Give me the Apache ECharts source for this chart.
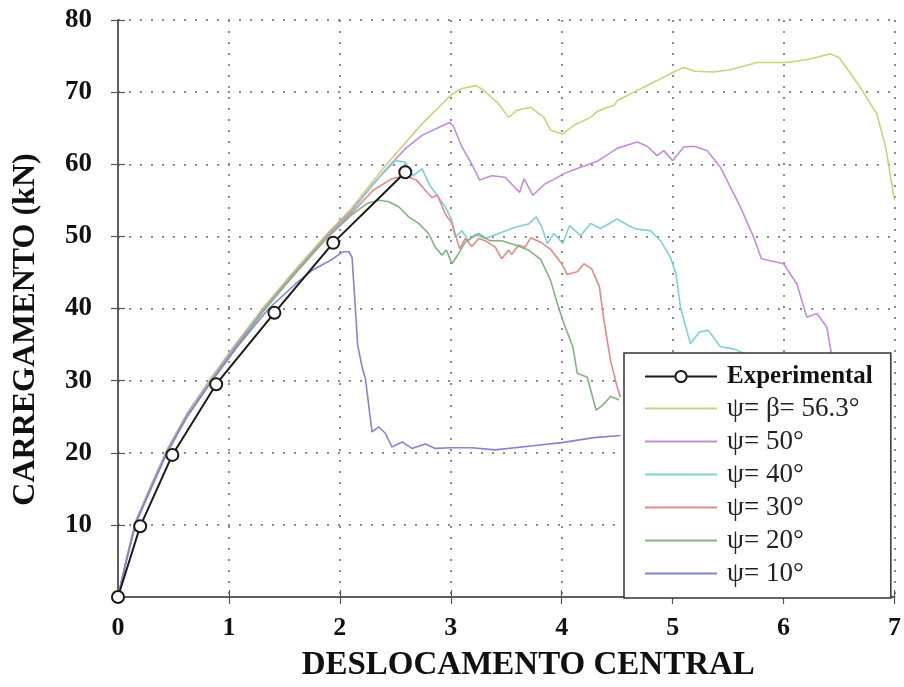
<!DOCTYPE html>
<html>
<head>
<meta charset="utf-8">
<script src="https://cdn.jsdelivr.net/npm/echarts@6/dist/echarts.min.js"></script>
<style>
  html, body { margin: 0; padding: 0; background: #fff; }
  #chart { width: 904px; height: 687px; }
</style>
</head>
<body>
<div id="chart"></div>
<script>
// tick values
const xTicks = [0, 1, 2, 3, 4, 5, 6, 7];
const yTicks = [0, 10, 20, 30, 40, 50, 60, 70, 80];

// legend names
const seriesNames = ["Experimental", "ψ= β= 56.3°", "ψ= 50°", "ψ= 40°", "ψ= 30°", "ψ= 20°", "ψ= 10°"];

// [deslocamento, carregamento]
const experimental = [[0, 0], [0.2, 9.8], [0.49, 19.7], [0.885, 29.5], [1.41, 39.4], [1.94, 49.1], [2.59, 58.9]];

const psi56 = [[0, 0], [0.08, 5.6], [0.16, 10.6], [0.3, 15.6], [0.44, 20.4], [0.62, 25.4], [0.84, 30.4], [1.07, 35.3],
  [1.32, 40.3], [1.6, 45.4], [1.88, 50.3], [2.1, 53.8], [2.41, 59.8], [2.74, 65.6], [3.01, 69.7], [3.1, 70.5],
  [3.23, 70.9], [3.3, 70.2], [3.43, 68.4], [3.52, 66.5], [3.6, 67.5], [3.72, 67.9], [3.84, 66.5], [3.9, 64.7],
  [4.01, 64.2], [4.11, 65.4], [4.26, 66.5], [4.32, 67.3], [4.41, 67.9], [4.47, 68.1], [4.5, 68.8], [4.65, 70],
  [4.86, 71.6], [5.01, 72.8], [5.1, 73.4], [5.2, 72.9], [5.37, 72.8], [5.52, 73.1], [5.76, 74.1], [6.03, 74.1],
  [6.24, 74.6], [6.42, 75.3], [6.5, 74.8], [6.69, 70.7], [6.84, 67], [6.92, 62.4], [7.0, 55]];

const psi50 = [[0, 0], [0.08, 5.5], [0.16, 10.5], [0.3, 15.5], [0.44, 20.3], [0.62, 25.3], [0.84, 30.2], [1.07, 35.1],
  [1.32, 40.1], [1.6, 45.2], [1.88, 50.1], [2.1, 53.5], [2.41, 59.2], [2.6, 62.3], [2.74, 64], [2.89, 65.1],
  [2.99, 65.8], [3.02, 65.4], [3.1, 62.4], [3.19, 60], [3.26, 57.8], [3.37, 58.4], [3.49, 58.2], [3.62, 56.1],
  [3.66, 58], [3.74, 55.7], [3.85, 57.3], [3.93, 57.9], [4.02, 58.7], [4.17, 59.6], [4.32, 60.4], [4.5, 62.2],
  [4.68, 63.1], [4.77, 62.5], [4.86, 61.2], [4.92, 61.9], [5.0, 60.5], [5.1, 62.4], [5.19, 62.5], [5.31, 61.9],
  [5.43, 59.6], [5.61, 54.1], [5.73, 49.9], [5.8, 46.9], [6.0, 46.2], [6.12, 43.4], [6.21, 38.8], [6.3, 39.3],
  [6.39, 37.4], [6.43, 33.8], [6.47, 30]];

const psi40 = [[0, 0], [0.08, 5.4], [0.16, 10.4], [0.3, 15.4], [0.44, 20.2], [0.62, 25.2], [0.84, 30.1], [1.07, 35],
  [1.32, 40], [1.6, 45.1], [1.88, 50], [2.1, 53.3], [2.3, 57.3], [2.5, 60.5], [2.59, 60.3], [2.66, 58.4],
  [2.74, 59.4], [2.81, 57.1], [2.89, 55.4], [2.95, 54.1], [3.01, 52.2], [3.04, 49.9], [3.1, 50.8], [3.16, 49.4],
  [3.22, 50.3], [3.31, 49.7], [3.43, 50.4], [3.55, 51.1], [3.64, 51.5], [3.7, 51.7], [3.77, 52.7], [3.82, 51.3],
  [3.87, 49], [3.93, 50.4], [4.01, 49], [4.07, 51.5], [4.17, 50.1], [4.26, 51.8], [4.35, 51.1], [4.5, 52.4],
  [4.6, 51.5], [4.68, 51], [4.8, 50.8], [4.89, 49.4], [4.98, 47.1], [5.03, 44.8], [5.07, 40.2], [5.16, 35.1],
  [5.24, 36.7], [5.32, 37], [5.43, 34.7], [5.55, 34.4], [5.64, 33.8], [5.75, 31]];

const psi30 = [[0, 0], [0.08, 5.4], [0.16, 10.3], [0.3, 15.3], [0.44, 20.1], [0.62, 25.1], [0.84, 30], [1.07, 34.9],
  [1.32, 39.9], [1.6, 45], [1.88, 49.9], [2.1, 53.1], [2.3, 56.4], [2.47, 58], [2.59, 58.4], [2.69, 57.8],
  [2.77, 56.4], [2.83, 55.4], [2.88, 55.7], [2.95, 53.1], [3.01, 51.8], [3.08, 48.3], [3.13, 49.7], [3.19, 48.6],
  [3.25, 49.7], [3.31, 49.4], [3.4, 48.5], [3.46, 46.9], [3.52, 48.1], [3.55, 47.5], [3.61, 48.8], [3.67, 48.5],
  [3.72, 49.8], [3.81, 49.2], [3.9, 48.2], [4.0, 46.2], [4.05, 44.7], [4.14, 45.1], [4.2, 46.2], [4.27, 45.5],
  [4.34, 43], [4.38, 38.4], [4.44, 32.8], [4.5, 29.1], [4.53, 27.7]];

const psi20 = [[0, 0], [0.08, 5.3], [0.16, 10.3], [0.3, 15.2], [0.44, 20], [0.62, 25], [0.84, 29.9], [1.07, 34.8],
  [1.32, 39.8], [1.6, 44.9], [1.88, 49.7], [2.1, 52.9], [2.25, 54.6], [2.35, 55], [2.44, 54.8], [2.53, 54.1],
  [2.62, 52.7], [2.71, 51.8], [2.8, 50.4], [2.86, 48.5], [2.92, 47.4], [2.96, 48.1], [3.01, 46.2], [3.07, 47.6],
  [3.13, 49.2], [3.25, 50.4], [3.35, 49.4], [3.46, 49.4], [3.58, 48.8], [3.7, 48.1], [3.81, 46.8], [3.9, 43.9],
  [3.96, 40.7], [4.02, 37.9], [4.1, 34.7], [4.14, 31], [4.23, 30.5], [4.31, 25.9], [4.37, 26.6], [4.44, 27.8],
  [4.52, 27.3]];

const psi10 = [[0, 0], [0.08, 5.3], [0.16, 10.2], [0.3, 15.1], [0.44, 19.9], [0.62, 24.9], [0.84, 29.8], [1.07, 34.6],
  [1.25, 38], [1.36, 40], [1.6, 43.4], [1.75, 45.3], [1.93, 46.8], [2.02, 47.8], [2.08, 47.9], [2.11, 47.1],
  [2.14, 40], [2.16, 35], [2.2, 31.9], [2.23, 30.3], [2.29, 22.9], [2.35, 23.6], [2.41, 22.7], [2.47, 20.8],
  [2.56, 21.5], [2.65, 20.6], [2.77, 21.2], [2.86, 20.6], [3.01, 20.7], [3.19, 20.7], [3.4, 20.4], [3.7, 20.9],
  [4.0, 21.4], [4.29, 22.1], [4.53, 22.4]];

const serif = "'Liberation Serif', 'Times New Roman', serif";
const chart = echarts.init(document.getElementById("chart"), null, { renderer: "canvas" });

function simLine(name, data, color) {
  return {
    name: name,
    type: "line",
    data: data,
    showSymbol: false,
    symbol: "none",
    color: color,
    lineStyle: { color: color, width: 1.6 },
    z: 2
  };
}

// legend items: only the experimental entry keeps its circle
const legendData = seriesNames.map(function (n, i) {
  return i === 0 ? { name: n } : { name: n, itemStyle: { opacity: 0 } };
});

chart.setOption({
  backgroundColor: "#fff",
  animation: false,
  grid: { left: 118, right: 5, top: 20, bottom: 90, show: false },
  legend: {
    orient: "vertical",
    left: 624,
    top: 353,
    data: legendData,
    backgroundColor: "#fff",
    borderColor: "#333",
    borderWidth: 1.5,
    borderRadius: 0,
    padding: [11, 18, 11, 20],
    itemWidth: 72,
    itemHeight: 14,
    itemGap: 6,
    formatter: function (name) {
      return name === "Experimental" ? "{b|" + name + "}" : "{n|" + name + "}";
    },
    textStyle: {
      fontFamily: serif,
      fontSize: 25,
      color: "#111",
      rich: {
        b: { fontFamily: serif, fontSize: 25, fontWeight: "bold", color: "#111", padding: [0, 0, 0, 5], lineHeight: 28 },
        n: { fontFamily: serif, fontSize: 27, color: "#222", padding: [0, 0, 0, 5], lineHeight: 28 }
      }
    },
    z: 10
  },
  xAxis: [
    {
      type: "value",
      min: 0,
      max: 7,
      interval: 1,
      name: "DESLOCAMENTO CENTRAL",
      nameLocation: "middle",
      nameGap: 52,
      nameTextStyle: { fontFamily: serif, fontSize: 33, fontWeight: "bold", color: "#111", padding: [0, 0, 0, 44] },
      axisLine: { show: true, lineStyle: { color: "#555", width: 1.5 } },
      axisTick: { show: true, inside: true, length: 7, lineStyle: { color: "#555", width: 1.2 } },
      axisLabel: { fontFamily: serif, fontSize: 26, fontWeight: "bold", color: "#111", margin: 18,
        formatter: function (v) { return xTicks.indexOf(v) >= 0 ? String(v) : ""; } },
      splitLine: { show: true, lineStyle: { color: "#8a8a8a", width: 2, type: [2, 9] } }
    },
    {
      type: "value",
      position: "top",
      min: 0,
      max: 7,
      interval: 1,
      axisLine: { show: true, lineStyle: { color: "#555", width: 1.5 } },
      axisTick: { show: true, inside: true, length: 7, lineStyle: { color: "#555", width: 1.2 } },
      axisLabel: { show: false },
      splitLine: { show: false }
    }
  ],
  yAxis: [
    {
      type: "value",
      min: 0,
      max: 80,
      interval: 10,
      name: "CARREGAMENTO (kN)",
      nameLocation: "middle",
      nameGap: 76,
      nameTextStyle: { fontFamily: serif, fontSize: 32, fontWeight: "bold", color: "#111", padding: [0, 42, 0, 0] },
      axisLine: { show: true, lineStyle: { color: "#555", width: 1.5 } },
      axisTick: { show: true, inside: true, length: 7, lineStyle: { color: "#555", width: 1.2 } },
      axisLabel: { fontFamily: serif, fontSize: 27, fontWeight: "bold", color: "#111", margin: 26,
        formatter: function (v) { return v === 0 || yTicks.indexOf(v) < 0 ? "" : String(v); } },
      splitLine: { show: true, lineStyle: { color: "#8a8a8a", width: 2, type: [2, 9] } }
    },
    {
      type: "value",
      position: "right",
      min: 0,
      max: 80,
      interval: 10,
      axisLine: { show: true, lineStyle: { color: "#555", width: 1.5 } },
      axisTick: { show: true, inside: true, length: 7, lineStyle: { color: "#555", width: 1.2 } },
      axisLabel: { show: false },
      splitLine: { show: false }
    }
  ],
  series: [
    {
      name: seriesNames[0],
      type: "line",
      data: experimental,
      symbol: "emptyCircle",
      symbolSize: 12,
      color: "#1a1a1a",
      lineStyle: { color: "#1a1a1a", width: 2 },
      itemStyle: { color: "#1a1a1a", borderColor: "#1a1a1a", borderWidth: 1.8 },
      z: 5
    },
    simLine(seriesNames[1], psi56, "#d0d07a"),
    simLine(seriesNames[2], psi50, "#c48ed4"),
    simLine(seriesNames[3], psi40, "#7ed2d2"),
    simLine(seriesNames[4], psi30, "#e28a8a"),
    simLine(seriesNames[5], psi20, "#84b284"),
    simLine(seriesNames[6], psi10, "#8484d6")
  ]
});
</script>
</body>
</html>
